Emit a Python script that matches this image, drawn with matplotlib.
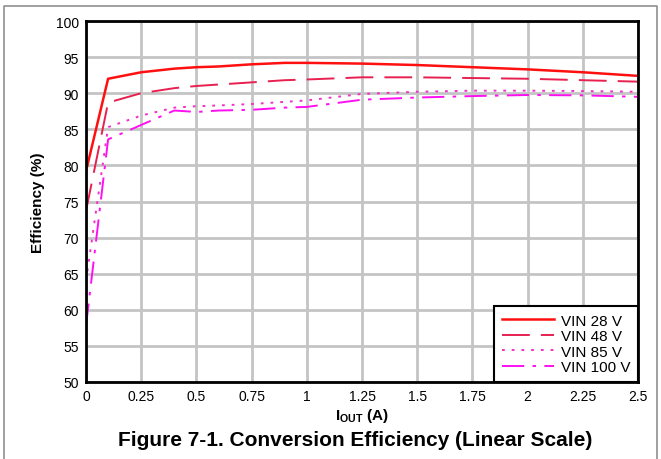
import matplotlib
matplotlib.use('Agg')
import matplotlib.pyplot as plt
from matplotlib.lines import Line2D

plt.rcParams['font.family'] = ['Liberation Sans', 'DejaVu Sans']
plt.rcParams['mathtext.fontset'] = 'custom'
plt.rcParams['mathtext.bf'] = 'Liberation Sans:bold'
plt.rcParams['mathtext.rm'] = 'Liberation Sans:bold'
plt.rcParams['lines.scale_dashes'] = False

# load current (A)
iout = [0, 0.1, 0.25, 0.4, 0.5, 0.6, 0.75, 0.9, 1.0, 1.25, 1.5, 1.75, 2.0, 2.25, 2.5]

# efficiency (%) per input voltage
eff_28 = [79.2, 92.0, 92.9, 93.4, 93.6, 93.7, 94.0, 94.2, 94.2, 94.1, 93.9, 93.6, 93.3, 92.9, 92.4]
eff_48 = [73.7, 88.7, 90.0, 90.7, 91.0, 91.2, 91.5, 91.8, 91.9, 92.2, 92.2, 92.1, 92.0, 91.8, 91.6]
eff_85 = [64.0, 85.3, 86.9, 88.0, 88.2, 88.3, 88.5, 88.8, 89.0, 89.9, 90.2, 90.35, 90.35, 90.3, 90.2]
eff_100 = [57.8, 83.6, 85.6, 87.6, 87.4, 87.6, 87.7, 88.0, 88.1, 89.1, 89.4, 89.6, 89.75, 89.7, 89.5]

labels = ['VIN 28 V', 'VIN 48 V', 'VIN 85 V', 'VIN 100 V']
xticks = [0, 0.25, 0.5, 0.75, 1, 1.25, 1.5, 1.75, 2, 2.25, 2.5]
xticklabels = ['0', '0.25', '0.5', '0.75', '1', '1.25', '1.5', '1.75', '2', '2.25', '2.5']

fig = plt.figure(figsize=(6.61, 4.60), dpi=100)
ax = fig.add_axes([86 / 661, 1 - 383 / 460, (638 - 86) / 661, (383 - 22) / 460])

# outer frame around the figure
fig.add_artist(Line2D([4 / 661, 4 / 661, 657 / 661, 657 / 661], [0, 1 - 7 / 460, 1 - 7 / 460, 0],
                      transform=fig.transFigure, color='#909090', lw=1.2))

ax.plot(iout, eff_28, color='#ff1010', lw=1.8, label=labels[0])
ax.plot(iout, eff_48, color='#e8204f', lw=1.4, linestyle=(0, (20, 8)), label=labels[1])
ax.plot(iout, eff_85, color='#f030c8', lw=1.4, linestyle=(0, (2, 5)), label=labels[2])
ax.plot(iout, eff_100, color='#ff10f0', lw=1.4, linestyle=(0, (16, 6, 2.5, 6)), label=labels[3])

ax.set_xlim(0, 2.5)
ax.set_ylim(50, 100)
ax.set_xticks(xticks)
ax.set_xticklabels(xticklabels)
ax.set_yticks(range(50, 101, 5))
ax.tick_params(length=0, labelsize=10, pad=5)
ax.grid(True, color='#c4c4c4', lw=2)
ax.set_axisbelow(True)
for s in ax.spines.values():
    s.set_linewidth(2)
    s.set_color('black')

ax.set_ylabel('Efficiency (%)', fontsize=11, fontweight='bold', labelpad=8)
ax.set_xlabel(r'$\mathbf{I_{OUT}}$ (A)', fontsize=11, fontweight='bold', labelpad=2)

leg = ax.legend(loc='lower right', borderaxespad=0, fancybox=False, fontsize=11,
                handlelength=3.4, handletextpad=0.45, labelspacing=0.1,
                borderpad=0.5, framealpha=1)
leg.get_frame().set_edgecolor('black')
leg.get_frame().set_linewidth(1.5)

fig.text(355 / 661, 1 - 441 / 460, 'Figure 7-1. Conversion Efficiency (Linear Scale)',
         ha='center', va='center', fontsize=15, fontweight='bold')

fig.savefig('out.png', dpi=100)
